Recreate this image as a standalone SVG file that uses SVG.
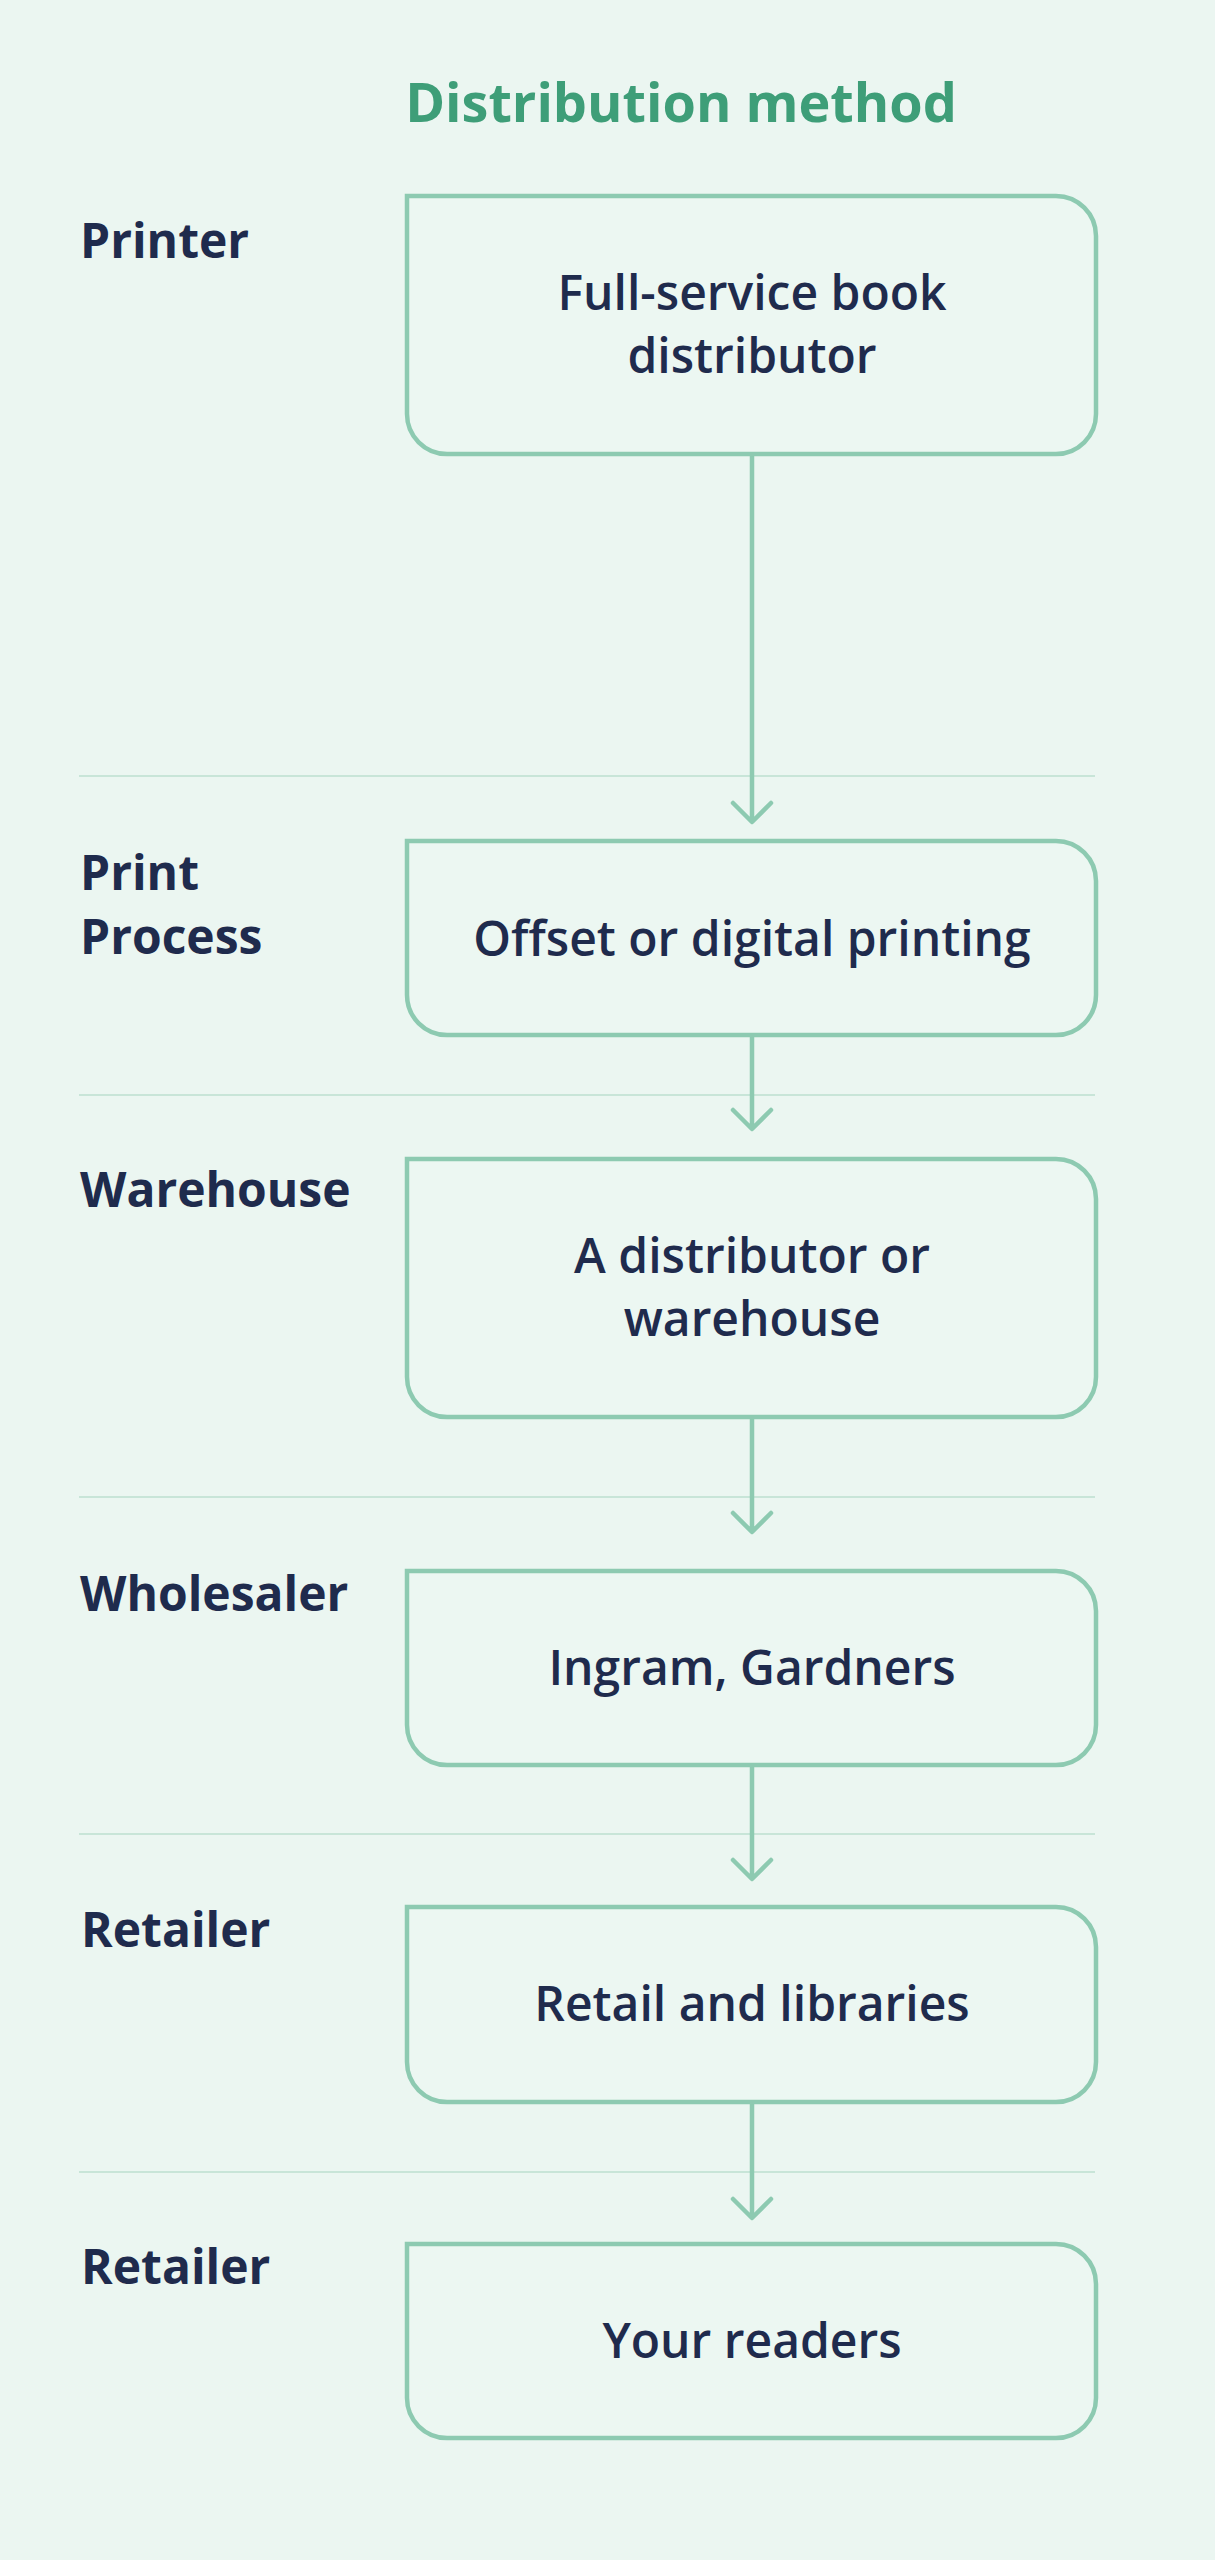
<svg xmlns="http://www.w3.org/2000/svg" width="1215" height="2560" viewBox="0 0 1215 2560">
<style>
.bg{fill:#EBF6F1}
.box{fill:#ECF7F2;stroke:#8DCAB1;stroke-width:4.5}
.sep{stroke:#C8E5D8;stroke-width:2}
.conn{stroke:#8DCAB1;stroke-width:4.5;fill:none;stroke-linecap:round;stroke-linejoin:round}
.lbl{font-family:"Open Sans","Noto Sans",sans-serif;font-weight:700;font-size:48px;fill:#1F2B4D}
.txt{font-family:"Open Sans","Noto Sans",sans-serif;font-weight:600;font-size:48px;fill:#1F2B4D;text-anchor:middle}
.title{font-family:"Open Sans","Noto Sans",sans-serif;font-weight:700;font-size:54px;fill:#3E9E78;text-anchor:middle}
</style>
<rect class="bg" x="0" y="0" width="1215" height="2560"/>
<text class="title" x="681" y="122">Distribution method</text>
<g id="separators">
<line class="sep" x1="79" y1="776" x2="1095" y2="776"/>
<line class="sep" x1="79" y1="1095" x2="1095" y2="1095"/>
<line class="sep" x1="79" y1="1497" x2="1095" y2="1497"/>
<line class="sep" x1="79" y1="1834" x2="1095" y2="1834"/>
<line class="sep" x1="79" y1="2172" x2="1095" y2="2172"/>
</g>
<g id="lane-labels">
<text class="lbl" x="80" y="258">Printer</text>
<text class="lbl" x="80" y="890">Print</text>
<text class="lbl" x="80" y="954">Process</text>
<text class="lbl" x="80" y="1207">Warehouse</text>
<text class="lbl" x="80" y="1611">Wholesaler</text>
<text class="lbl" x="81" y="1947">Retailer</text>
<text class="lbl" x="81" y="2284">Retailer</text>
</g>
<g id="connectors">
<path class="conn" d="M752 454 V821 M733 803 L752 822 L771 803"/>
<path class="conn" d="M752 1035 V1128 M733 1110 L752 1129 L771 1110"/>
<path class="conn" d="M752 1417 V1531 M733 1513 L752 1532 L771 1513"/>
<path class="conn" d="M752 1765 V1878 M733 1860 L752 1879 L771 1860"/>
<path class="conn" d="M752 2102 V2217 M733 2199 L752 2218 L771 2199"/>
</g>
<g id="node1">
<path class="box" d="M407 196 H1056 A40 40 0 0 1 1096 236 V414 A40 40 0 0 1 1056 454 H447 A40 40 0 0 1 407 414 Z"/>
<text class="txt" x="752" y="310">Full-service book</text>
<text class="txt" x="752" y="373">distributor</text>
</g>
<g id="node2">
<path class="box" d="M407 841 H1056 A40 40 0 0 1 1096 881 V995 A40 40 0 0 1 1056 1035 H447 A40 40 0 0 1 407 995 Z"/>
<text class="txt" x="752" y="956">Offset or digital printing</text>
</g>
<g id="node3">
<path class="box" d="M407 1159 H1056 A40 40 0 0 1 1096 1199 V1377 A40 40 0 0 1 1056 1417 H447 A40 40 0 0 1 407 1377 Z"/>
<text class="txt" x="752" y="1273">A distributor or</text>
<text class="txt" x="752" y="1336">warehouse</text>
</g>
<g id="node4">
<path class="box" d="M407 1571 H1056 A40 40 0 0 1 1096 1611 V1725 A40 40 0 0 1 1056 1765 H447 A40 40 0 0 1 407 1725 Z"/>
<text class="txt" x="752" y="1685">Ingram, Gardners</text>
</g>
<g id="node5">
<path class="box" d="M407 1907 H1056 A40 40 0 0 1 1096 1947 V2062 A40 40 0 0 1 1056 2102 H447 A40 40 0 0 1 407 2062 Z"/>
<text class="txt" x="752" y="2021">Retail and libraries</text>
</g>
<g id="node6">
<path class="box" d="M407 2244 H1056 A40 40 0 0 1 1096 2284 V2398 A40 40 0 0 1 1056 2438 H447 A40 40 0 0 1 407 2398 Z"/>
<text class="txt" x="752" y="2358">Your readers</text>
</g>
</svg>
